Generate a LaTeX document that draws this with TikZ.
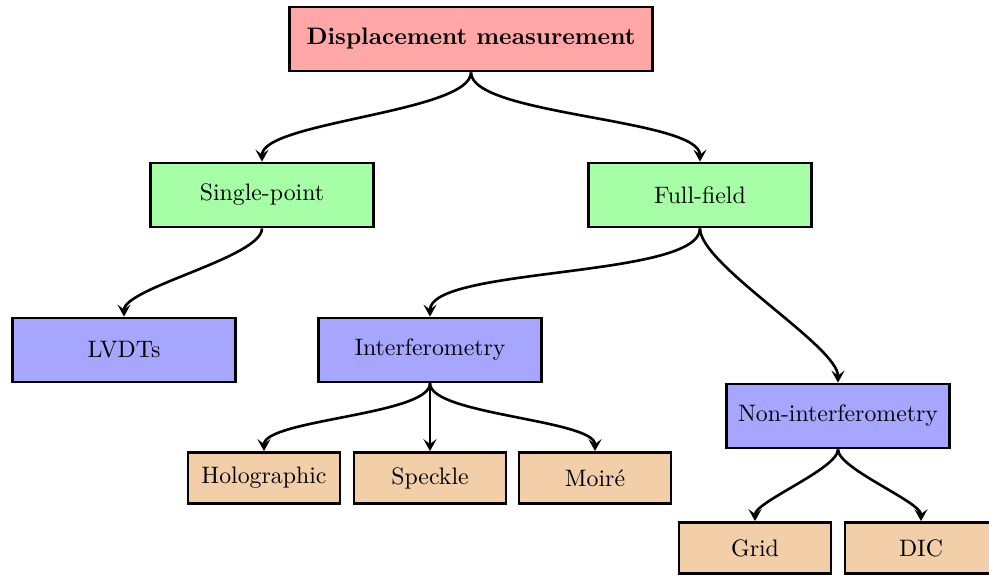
\documentclass[tikz,border=0pt]{standalone}
\usetikzlibrary{arrows.meta}
\definecolor{cred}{RGB}{255,166,166}
\definecolor{cgreen}{RGB}{166,255,166}
\definecolor{cblue}{RGB}{166,166,255}
\definecolor{ctan}{RGB}{242,206,169}
\def\u{0.42pt}
\begin{document}
\begin{tikzpicture}[x=0.42pt,y=-0.42pt,
  box/.style={draw=black,line width=1.2pt,rectangle,inner sep=0pt,anchor=center},
  bigbox/.style={box,minimum width=363*\u,minimum height=64*\u},
  midbox/.style={box,minimum width=223*\u,minimum height=64*\u},
  leafbox/.style={box,fill=ctan,minimum width=152*\u,minimum height=51*\u},
  conn/.style={line width=1.1pt,looseness=0.45,-{Stealth[length=5pt,width=5.5pt,inset=2pt]}}]
\useasboundingbox (0,0) rectangle (989,575);
\node[bigbox,fill=cred] (root) at (471,39) {\textbf{Displacement measurement}};
\node[midbox,fill=cgreen] (sp) at (262,195) {Single-point};
\node[midbox,fill=cgreen] (ff) at (700,195) {Full-field};
\node[midbox,fill=cblue] (lvdt) at (124,350) {LVDTs};
\node[midbox,fill=cblue] (intf) at (430,350) {Interferometry};
\node[midbox,fill=cblue] (nonint) at (838,416) {Non-interferometry};
\node[leafbox] (holo) at (264,478) {Holographic};
\node[leafbox] (speck) at (430,478) {Speckle};
\node[leafbox] (moire) at (595,478) {Moiré};
\node[leafbox] (grid) at (755,548) {Grid};
\node[leafbox] (dic) at (921,548) {DIC};
\draw[conn] (root.south) to[out=-90,in=90] (sp.north);
\draw[conn] (root.south) to[out=-90,in=90] (ff.north);
\draw[conn] (sp.south) to[out=-90,in=90] (lvdt.north);
\draw[conn] (ff.south) to[out=-90,in=90] (intf.north);
\draw[conn] (ff.south) to[out=-90,in=90] (nonint.north);
\draw[conn] (intf.south) to[out=-90,in=90] (holo.north);
\draw[conn] (intf.south) -- (speck.north);
\draw[conn] (intf.south) to[out=-90,in=90] (moire.north);
\draw[conn] (nonint.south) to[out=-90,in=90] (grid.north);
\draw[conn] (nonint.south) to[out=-90,in=90] (dic.north);
\end{tikzpicture}
\end{document}
